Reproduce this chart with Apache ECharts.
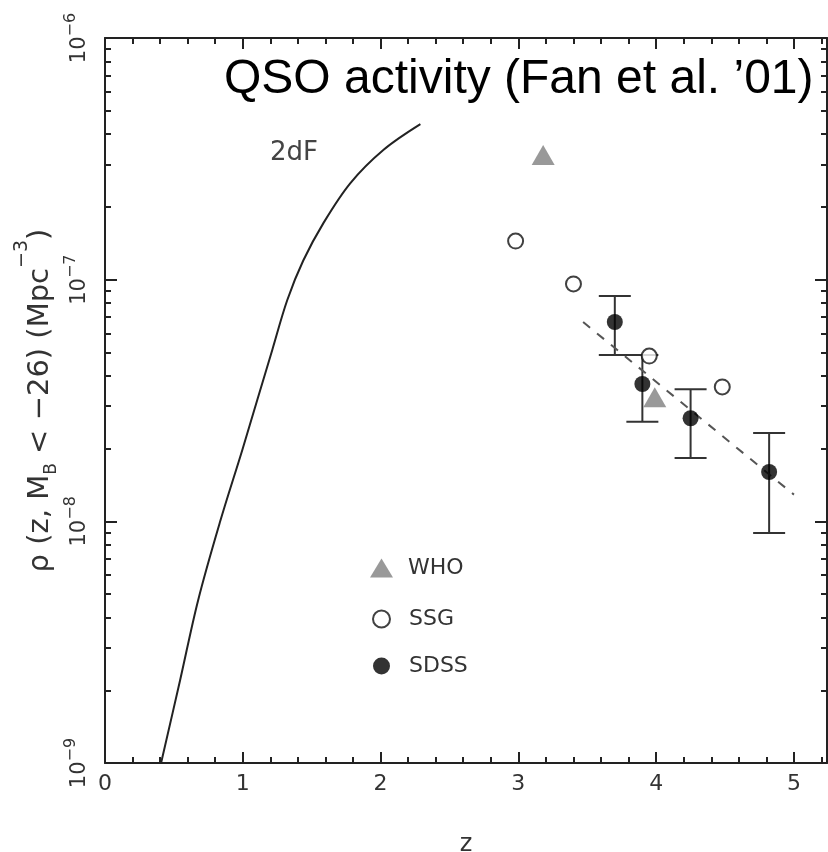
<!DOCTYPE html>
<html lang="en">
<head>
  <meta charset="UTF-8">
  <title>QSO activity</title>
  <script src="https://cdn.jsdelivr.net/npm/echarts@6/dist/echarts.min.js"></script>
</head>
<body style="margin:0;background:#fff">
  <div id="chart" style="width:828px;height:852px"></div>

  <script>
    // 2dF curve
    const curveZ = [0.407, 0.545, 0.676, 0.836, 0.996, 1.105, 1.214, 1.323, 1.439, 1.584, 1.781, 2.020, 2.289]
    const curveRho = [1.0e-9, 2.2e-9, 4.72e-9, 1.0e-8, 1.97e-8, 3.18e-8, 5.12e-8, 8.24e-8, 1.20e-7, 1.71e-7, 2.51e-7, 3.44e-7, 4.40e-7]

    const whoZ = [3.18, 3.99]
    const whoRho = [3.28e-7, 3.26e-8]

    const ssgZ = [2.98, 3.40, 3.95, 4.48]
    const ssgRho = [1.445e-7, 9.6e-8, 4.83e-8, 3.6e-8]

    const sdssZ = [3.70, 3.90, 4.25, 4.82]
    const sdssRho = [6.68e-8, 3.70e-8, 2.67e-8, 1.60e-8]
    const sdssLo = [4.88e-8, 2.58e-8, 1.83e-8, 8.95e-9]
    const sdssHi = [8.55e-8, 4.88e-8, 3.52e-8, 2.32e-8]

    // dashed fit (end points)
    const fitZ = [3.47, 5.0]
    const fitRho = [6.68e-8, 1.29e-8]

    const xTicks = [0, 1, 2, 3, 4, 5]
    const yDecades = [1e-9, 1e-8, 1e-7, 1e-6]
    const yMinor = []
    yDecades.slice(0, 3).forEach(d => {
      for (let m = 2; m <= 9; m++) yMinor.push(m * d)
    })

    const dom = document.getElementById('chart')
    const myChart = echarts.init(dom)

    const pair = (xs, ys) => xs.map((x, i) => [x, ys[i]])

    function renderErrorBar(params, api) {
      const z = api.value(0)
      const top = api.coord([z, api.value(2)])
      const bottom = api.coord([z, api.value(1)])
      const half = 16
      const style = { stroke: '#333', lineWidth: 2 }
      return {
        type: 'group',
        children: [
          { type: 'line', shape: { x1: top[0], y1: top[1], x2: bottom[0], y2: bottom[1] }, style },
          { type: 'line', shape: { x1: top[0] - half, y1: top[1], x2: top[0] + half, y2: top[1] }, style },
          { type: 'line', shape: { x1: bottom[0] - half, y1: bottom[1], x2: bottom[0] + half, y2: bottom[1] }, style }
        ]
      }
    }

    const axisLine = { show: true, lineStyle: { color: '#222', width: 2 } }
    const yBase = { type: 'log', logBase: 10, min: 1e-9, max: 1e-6, splitLine: { show: false } }

    const option = {
      animation: false,
      backgroundColor: '#fff',
      title: {
        text: 'QSO activity (Fan et al. \u201901)',
        left: 224,
        top: 56,
        padding: 0,
        textStyle: { fontFamily: 'Liberation Sans', fontSize: 48, fontWeight: 'normal', color: '#000' }
      },
      grid: { left: 105, right: 1, top: 38, bottom: 89, outerBoundsMode: 'none' },
      legend: [
        {
          data: ['WHO'],
          orient: 'vertical',
          left: 370,
          top: 557,
          padding: 0,
          itemWidth: 23,
          itemHeight: 19,
          symbolKeepAspect: false,
          formatter: '{t|{name}}',
          textStyle: {
            rich: { t: { fontFamily: 'DejaVu Sans', fontSize: 22, color: '#333', padding: [0, 0, 0, 10] } }
          }
        },
        {
          data: ['SSG', 'SDSS'],
          orient: 'vertical',
          left: 372,
          top: 608,
          padding: 0,
          itemGap: 25,
          itemWidth: 17,
          itemHeight: 17,
          formatter: '{t|{name}}',
          textStyle: {
            rich: { t: { fontFamily: 'DejaVu Sans', fontSize: 22, color: '#333', padding: [0, 0, 0, 14] } }
          }
        }
      ],
      graphic: [
        {
          type: 'text',
          left: 270,
          top: 140,
          style: { text: '2dF', fontFamily: 'DejaVu Sans', fontSize: 26, fill: '#444' }
        }
      ],
      xAxis: [
        {
          type: 'value',
          min: 0,
          max: 5.24,
          interval: 1,
          name: 'z',
          nameLocation: 'middle',
          nameGap: 70,
          nameTextStyle: { fontFamily: 'DejaVu Sans', fontSize: 24, color: '#333' },
          axisLine,
          axisTick: { inside: true, length: 11, lineStyle: { color: '#222', width: 2 } },
          minorTick: { show: true, splitNumber: 5, length: 6, lineStyle: { color: '#222', width: 2 } },
          splitLine: { show: false },
          axisLabel: {
            margin: 10,
            fontFamily: 'DejaVu Sans',
            fontSize: 22,
            color: '#333',
            showMaxLabel: false,
            formatter: v => (xTicks.includes(v) ? String(v) : '')
          }
        },
        {
          type: 'value',
          position: 'top',
          min: 0,
          max: 5.24,
          interval: 1,
          axisLine,
          axisTick: { inside: true, length: 11, lineStyle: { color: '#222', width: 2 } },
          minorTick: { show: true, splitNumber: 5, length: 6, lineStyle: { color: '#222', width: 2 } },
          splitLine: { show: false },
          axisLabel: { show: false }
        }
      ],
      yAxis: [
        {
          ...yBase,
          position: 'left',
          axisLine,
          axisTick: { inside: true, length: 12, lineStyle: { color: '#222', width: 2 } },
          axisLabel: {
            rotate: 90,
            margin: 8,
            customValues: yDecades,
            formatter: v => '{b|10}{s|\u2212' + (-Math.round(Math.log10(v))) + '}',
            rich: {
              b: { fontFamily: 'DejaVu Sans', fontSize: 21, color: '#333', lineHeight: 34 },
              s: { fontFamily: 'DejaVu Sans', fontSize: 16, color: '#333', lineHeight: 16, verticalAlign: 'top' }
            }
          },
          name: '{n|\u03c1 (z, M}{sub|B}{n| < \u221226) (Mpc}{sup|\u22123}{n|)}',
          nameLocation: 'middle',
          nameRotate: 90,
          nameGap: 35,
          nameMoveOverlap: false,
          nameTextStyle: {
            rich: {
              n: { fontFamily: 'DejaVu Sans', fontSize: 29, color: '#333', lineHeight: 60 },
              sub: { fontFamily: 'DejaVu Sans', fontSize: 17, color: '#333', verticalAlign: 'bottom', padding: [0, 0, 10, 0] },
              sup: { fontFamily: 'DejaVu Sans', fontSize: 19, color: '#333', verticalAlign: 'top', padding: [3, 0, 0, 0] }
            }
          }
        },
        {
          ...yBase,
          position: 'left',
          axisLine: { show: false },
          axisTick: { inside: true, length: 6, customValues: yMinor, lineStyle: { color: '#222', width: 2 } },
          axisLabel: { show: false }
        },
        {
          ...yBase,
          position: 'right',
          axisLine,
          axisTick: { inside: true, length: 12, lineStyle: { color: '#222', width: 2 } },
          axisLabel: { show: false }
        },
        {
          ...yBase,
          position: 'right',
          axisLine: { show: false },
          axisTick: { inside: true, length: 6, customValues: yMinor, lineStyle: { color: '#222', width: 2 } },
          axisLabel: { show: false }
        }
      ],
      series: [
        {
          name: '2dF',
          type: 'line',
          smooth: 0.35,
          symbol: 'none',
          lineStyle: { color: '#222', width: 2 },
          data: pair(curveZ, curveRho)
        },
        {
          name: 'fit',
          type: 'line',
          symbol: 'none',
          lineStyle: { color: '#555', width: 2, type: [9, 9] },
          data: pair(fitZ, fitRho)
        },
        {
          name: 'SDSS errors',
          type: 'custom',
          renderItem: renderErrorBar,
          encode: { x: 0, y: [1, 2] },
          z: 3,
          data: sdssZ.map((z, i) => [z, sdssLo[i], sdssHi[i]])
        },
        {
          name: 'WHO',
          type: 'scatter',
          symbol: 'triangle',
          symbolSize: [23, 20],
          itemStyle: { color: '#808080' },
          z: 4,
          data: pair(whoZ, whoRho)
        },
        {
          name: 'SSG',
          type: 'scatter',
          symbol: 'circle',
          symbolSize: 15,
          itemStyle: { color: '#fff', borderColor: '#111', borderWidth: 2 },
          z: 4,
          data: pair(ssgZ, ssgRho)
        },
        {
          name: 'SDSS',
          type: 'scatter',
          symbol: 'circle',
          symbolSize: 16,
          itemStyle: { color: '#000' },
          z: 5,
          data: pair(sdssZ, sdssRho)
        }
      ]
    }

    myChart.setOption(option)
  </script>
</body>
</html>
